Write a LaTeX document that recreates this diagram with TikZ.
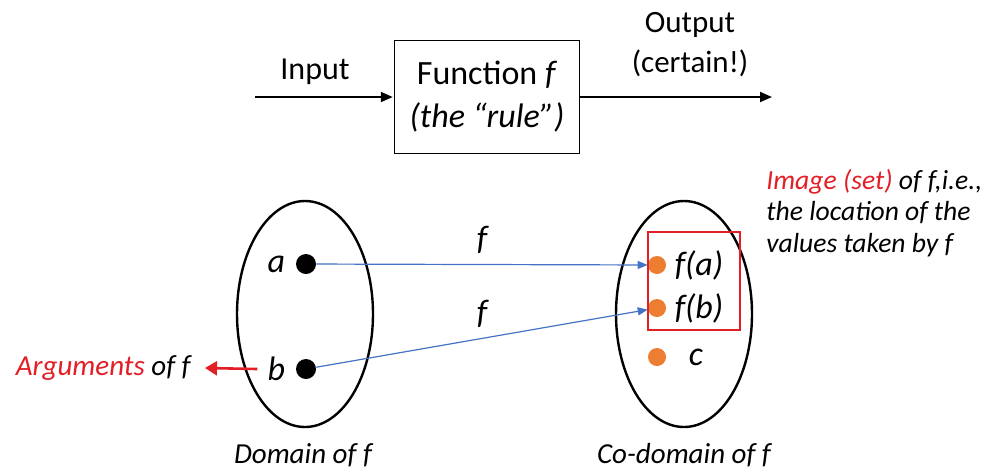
\documentclass[tikz,border=0pt]{standalone}
\usepackage{fontspec}
\setmainfont{Carlito}
\definecolor{argred}{RGB}{226,30,38}
\definecolor{mapblue}{RGB}{68,114,196}
\definecolor{valorange}{RGB}{237,125,49}
\usetikzlibrary{arrows.meta,positioning,shapes.geometric}

\begin{document}
\begin{tikzpicture}[x=0.5pt,y=-0.5pt,>=Triangle,
  lbl/.style={font=\fontsize{15.5}{20}\selectfont,align=center,inner sep=0pt},
  ital/.style={font=\fontsize{14.5}{16}\selectfont\itshape,inner sep=0pt},
  elem/.style={font=\fontsize{17}{19}\selectfont\itshape,inner sep=0pt},
  funcbox/.style={rectangle,draw,line width=0.75pt,align=center,minimum width=92.5pt,minimum height=56.5pt,font=\fontsize{17}{21.5}\selectfont},
  set/.style={ellipse,draw,line width=1.2pt,minimum width=68pt,minimum height=113pt},
  dot/.style={circle,fill,inner sep=0pt,minimum size=10pt},
  val/.style={circle,fill=valorange,inner sep=0pt,minimum size=9pt},
  imgbox/.style={rectangle,draw=argred,line width=1.2pt,minimum width=46pt,minimum height=49pt},
  flow/.style={->,line width=1pt,shorten >=0.5pt,>={Triangle[length=6pt,width=5pt]}},
  map/.style={->,draw=mapblue,line width=0.6pt,>={Triangle[length=5pt,width=4pt]}},
  argarrow/.style={->,draw=argred,line width=1.3pt,>={Triangle[length=6pt,width=7pt]}}]
  \useasboundingbox (0,0) rectangle (990,468);

  % top: input -> rule -> output
  \node[funcbox] (func) at (487,97) {Function \textit{f}\\\textit{(the “rule”)}};
  \coordinate (in) at (255,97);
  \coordinate (out) at (773,97);
  \node[lbl,font=\fontsize{16}{20}\selectfont] (input) at (315,72) {Input};
  \node[lbl] (output) at (690,45) {Output\\(certain!)};
  \draw[flow] (in) -- (func.west);
  \draw[flow] (func.east) -- (out);

  % domain and co-domain
  \node[set] (dom) at (305,314) {};
  \node[set] (cod) at (684,314) {};
  \node[ital] (domlbl) at (303,455) {Domain of \textit{f}};
  \node[ital] (codlbl) at (684,455) {Co-domain of \textit{f}};

  \node[dot] (a) at (306,264) {};
  \node[dot] (b) at (306,369) {};
  \node[elem,left=5pt of a] (albl) {a};
  \node[elem,left=5pt of b] (blbl) {b};

  \node[val] (fa) at (657,265) {};
  \node[val] (fb) at (657,308) {};
  \node[val] (c) at (657,357) {};
  \node[elem,right=4pt of fa] (falbl) {f(a)};
  \node[elem,right=4pt of fb] (fblbl) {f(b)};
  \node[elem,right=11pt of c] (clbl) {c};
  \node[imgbox] (img) at (694,281) {};

  \draw[map] (a) -- node[elem,midway,above=5pt] {f} (fa);
  \draw[map] (b) -- node[elem,midway,above=5pt] {f} (fb);

  % annotations
  \coordinate (argtip) at (205,368);
  \draw[argarrow] ([xshift=-5pt]blbl.west) -- (argtip);
  \node[ital,left=7pt of argtip] (args) {\textcolor{argred}{Arguments} of \textit{f}};
  \node[ital,align=left,anchor=west,font=\fontsize{13.8}{15.7}\selectfont\itshape] (imgtxt) at (766,213)
    {\textcolor{argred}{Image (set)} of \textit{f},i.e.,\\the location of the\\values taken by \textit{f}};
\end{tikzpicture}
\end{document}
